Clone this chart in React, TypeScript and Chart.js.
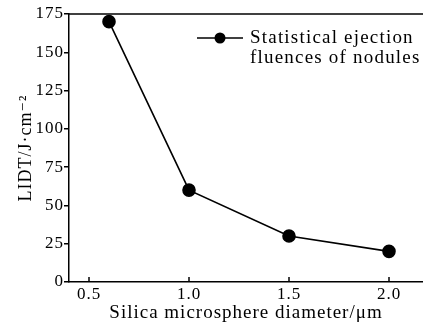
import { useEffect, useRef } from "react";
import { Chart, registerables } from "chart.js";

Chart.register(...registerables);

const diameters = [0.6, 1.0, 1.5, 2.0];
const lidt = [170, 60, 30, 20];
const xTicks = [0.5, 1.0, 1.5, 2.0];
const yTicks = [0, 25, 50, 75, 100, 125, 150, 175];
const seriesLabel = ["Statistical ejection", "fluences of nodules"];
const xTitle = "Silica microsphere diameter/μm";
const yTitle = "LIDT/J·cm⁻²";

const FONT = "'Liberation Serif', 'DejaVu Serif', serif";
const INK = "#000";

const framePlugin = {
  id: "frame",
  beforeDraw(chart: any) {
    (chart.ctx as any).letterSpacing = "1px";
  },
  afterDraw(chart: any) {
    const { ctx, chartArea } = chart;
    const xs = chart.scales.x;
    ctx.save();
    ctx.strokeStyle = INK;
    ctx.lineWidth = 1.5;
    // top frame line
    ctx.beginPath();
    ctx.moveTo(chartArea.left, chartArea.top);
    ctx.lineTo(chartArea.right, chartArea.top);
    ctx.stroke();
    // inward x ticks
    xs.ticks.forEach((t: any) => {
      const px = xs.getPixelForValue(t.value);
      ctx.beginPath();
      ctx.moveTo(px, chartArea.bottom);
      ctx.lineTo(px, chartArea.bottom - 5);
      ctx.stroke();
    });
    // legend
    const lx = chartArea.left + 128;
    const ly = chartArea.top + 24;
    ctx.beginPath();
    ctx.moveTo(lx, ly);
    ctx.lineTo(lx + 46, ly);
    ctx.stroke();
    ctx.fillStyle = INK;
    ctx.beginPath();
    ctx.arc(lx + 23, ly, 5.5, 0, Math.PI * 2);
    ctx.fill();
    (ctx as any).letterSpacing = "1.2px";
    ctx.font = `19px ${FONT}`;
    ctx.textBaseline = "middle";
    ctx.textAlign = "left";
    const lines = chart.data.datasets[0].label.split("\n");
    lines.forEach((s: string, i: number) => {
      ctx.fillText(s, lx + 53, ly + i * 20);
    });
    ctx.restore();
  },
};

export default function App() {
  const ref = useRef<HTMLCanvasElement>(null);
  useEffect(() => {
    if (!ref.current) return;
    const chart = new Chart(ref.current, {
      type: "line",
      data: {
        datasets: [
          {
            label: seriesLabel.join("\n"),
            data: diameters.map((d, i) => ({ x: d, y: lidt[i] })),
            borderColor: INK,
            backgroundColor: INK,
            borderWidth: 1.6,
            pointRadius: 6,
            pointBackgroundColor: INK,
            pointBorderColor: INK,
            tension: 0,
            clip: false as any,
          },
        ],
      },
      options: {
        animation: false,
        responsive: false,
        maintainAspectRatio: false,
        layout: { autoPadding: false, padding: { top: 14, right: 0, left: 0, bottom: 0 } },
        plugins: { legend: { display: false }, tooltip: { enabled: false } },
        scales: {
          x: {
            type: "linear",
            min: 0.4,
            max: 2.17,
            afterBuildTicks: (s: any) => {
              s.ticks = xTicks.map((v) => ({ value: v }));
            },
            afterFit: (s: any) => {
              s.height = 45;
            },
            grid: { display: false, drawTicks: false },
            border: { display: true, color: INK, width: 1.5 },
            ticks: {
              color: INK,
              font: { family: FONT, size: 17 },
              padding: 2,
              maxRotation: 0,
              callback: (v: any) => Number(v).toFixed(1),
            },
            title: {
              display: true,
              text: xTitle,
              color: INK,
              font: { family: FONT, size: 19 },
              padding: { top: 0, bottom: 3 },
            },
          },
          y: {
            type: "linear",
            min: 0,
            max: 175,
            afterBuildTicks: (s: any) => {
              s.ticks = yTicks.map((v) => ({ value: v }));
            },
            afterFit: (s: any) => {
              s.width = 69;
            },
            grid: {
              drawOnChartArea: false,
              drawTicks: true,
              tickLength: 5,
              color: INK,
              lineWidth: 1.5,
            },
            border: { display: true, color: INK, width: 1.5 },
            ticks: {
              color: INK,
              font: { family: FONT, size: 17 },
              padding: 0,
            },
            title: {
              display: true,
              text: yTitle,
              color: INK,
              font: { family: FONT, size: 18 },
              padding: { top: 15, bottom: 0 },
            },
          },
        },
      },
      plugins: [framePlugin],
    });
    return () => chart.destroy();
  }, []);
  return (
    <div style={{ position: "absolute", left: 0, top: 0, width: 423, height: 327 }}>
      <canvas ref={ref} width={423} height={327} style={{ display: "block" }} />
    </div>
  );
}
